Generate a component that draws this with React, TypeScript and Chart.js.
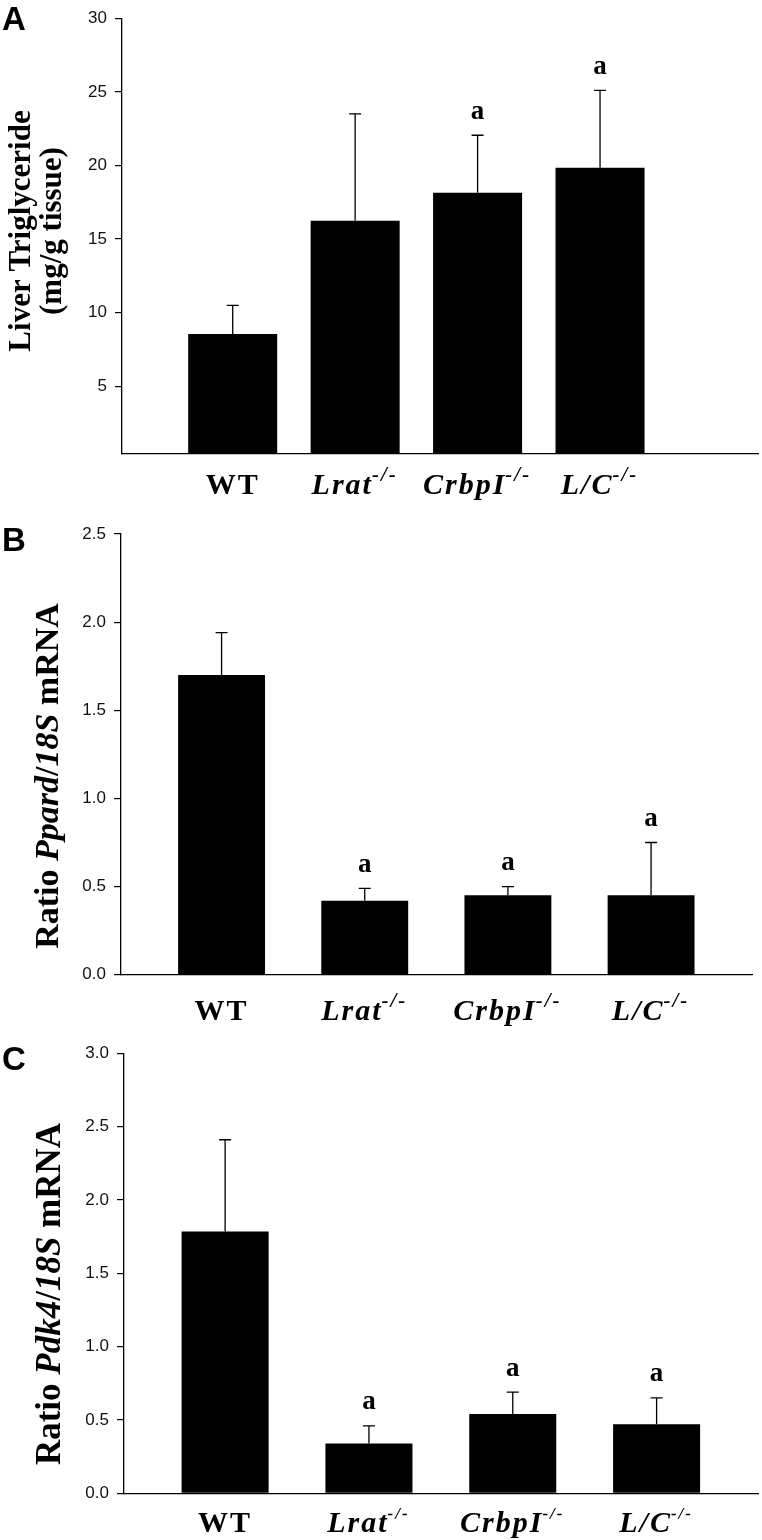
import React, { useEffect, useRef } from 'react';
import { Chart, registerables } from 'chart.js';

Chart.register(...registerables);

// ---------------- DATA ----------------
const categories = ['WT', 'Lrat', 'CrbpI', 'L/C'];
const categoryItalic = [false, true, true, true];
const categorySup = ['', '-/-', '-/-', '-/-'];
const positions = [1, 2, 3, 4];

const triglyceride = [8.55, 16.25, 18.15, 19.85];
const triglycerideErr = [1.95, 7.25, 3.9, 5.25];
const triglycerideSig = [false, false, true, true];
const triglycerideTicks = [5, 10, 15, 20, 25, 30];

const ppard = [1.7, 0.42, 0.45, 0.45];
const ppardErr = [0.24, 0.07, 0.05, 0.3];
const ppardSig = [false, true, true, true];
const ppardTicks = [0, 0.5, 1.0, 1.5, 2.0, 2.5];

const pdk4 = [1.785, 0.34, 0.54, 0.47];
const pdk4Err = [0.625, 0.12, 0.15, 0.18];
const pdk4Sig = [false, true, true, true];
const pdk4Ticks = [0, 0.5, 1.0, 1.5, 2.0, 2.5, 3.0];

const sigMark = 'a';

type Seg = { t: string; i?: boolean };

const titleA: Seg[][] = [[{ t: 'Liver Triglyceride' }], [{ t: '(mg/g tissue)' }]];
const titleB: Seg[][] = [[{ t: 'Ratio ' }, { t: 'Ppard', i: true }, { t: '/' }, { t: '18S', i: true }, { t: ' mRNA' }]];
const titleC: Seg[][] = [[{ t: 'Ratio ' }, { t: 'Pdk4', i: true }, { t: '/' }, { t: '18S', i: true }, { t: ' mRNA' }]];

// ---------------- LAYOUT ----------------
const W = 762;
const SERIF = '"Liberation Serif", "Times New Roman", serif';
const SANS = '"Liberation Sans", Arial, sans-serif';

type Cfg = {
  letter: string;
  values: number[];
  errs: number[];
  sig: boolean[];
  ticks: number[];
  decimals: number;
  yMin: number;
  yMax: number;
  xMin: number;
  xMax: number;
  barFrac: number;
  h: number;
  areaLeft: number;
  areaRight: number;
  areaTop: number;
  areaBottom: number;
  labelBaseline: number;
  labelSize: number;
  supSize: number;
  title: Seg[][];
  titleSize: number;
  titleBaselines: number[];
  titleCenterY: number;
  letterBaseline: number;
};

const panels: Cfg[] = [
  {
    letter: 'A', values: triglyceride, errs: triglycerideErr, sig: triglycerideSig, ticks: triglycerideTicks,
    decimals: 0, yMin: 0.4, yMax: 30, xMin: 0.096, xMax: 5.29, barFrac: 0.727,
    h: 505, areaLeft: 122, areaRight: 758, areaTop: 9.3, areaBottom: 454,
    labelBaseline: 494, labelSize: 30, supSize: 21,
    title: titleA, titleSize: 31, titleBaselines: [30, 61], titleCenterY: 231, letterBaseline: 30,
  },
  {
    letter: 'B', values: ppard, errs: ppardErr, sig: ppardSig, ticks: ppardTicks,
    decimals: 1, yMin: 0, yMax: 2.5, xMin: 0.2975, xMax: 4.705, barFrac: 0.607,
    h: 530, areaLeft: 121, areaRight: 752, areaTop: 29, areaBottom: 469.7,
    labelBaseline: 515, labelSize: 30, supSize: 21,
    title: titleB, titleSize: 34, titleBaselines: [58], titleCenterY: 271, letterBaseline: 46,
  },
  {
    letter: 'C', values: pdk4, errs: pdk4Err, sig: pdk4Sig, ticks: pdk4Ticks,
    decimals: 1, yMin: 0, yMax: 3.0, xMin: 0.297, xMax: 4.705, barFrac: 0.605,
    h: 505, areaLeft: 124, areaRight: 758, areaTop: 15.7, areaBottom: 458.3,
    labelBaseline: 497, labelSize: 30, supSize: 17,
    title: titleC, titleSize: 35, titleBaselines: [60], titleCenterY: 259, letterBaseline: 35,
  },
];

function segFont(italic: boolean | undefined, size: number) {
  return `${italic ? 'italic ' : ''}bold ${size}px ${SERIF}`;
}

function drawRotatedTitle(ctx: CanvasRenderingContext2D, segs: Seg[], size: number, bx: number, cy: number) {
  ctx.save();
  let w = 0;
  for (const s of segs) {
    ctx.font = segFont(s.i, size);
    w += ctx.measureText(s.t).width;
  }
  ctx.translate(bx, cy);
  ctx.rotate(-Math.PI / 2);
  ctx.textAlign = 'left';
  ctx.textBaseline = 'alphabetic';
  ctx.fillStyle = '#000';
  let x = -w / 2;
  for (const s of segs) {
    ctx.font = segFont(s.i, size);
    ctx.fillText(s.t, x, 0);
    x += ctx.measureText(s.t).width;
  }
  ctx.restore();
}

function drawCategoryLabel(ctx: CanvasRenderingContext2D, idx: number, cx: number, baseline: number, size: number, supSize: number) {
  const main = categories[idx];
  const sup = categorySup[idx];
  ctx.save();
  (ctx as any).letterSpacing = '2px';
  ctx.font = segFont(categoryItalic[idx], size);
  const wMain = ctx.measureText(main).width;
  ctx.font = segFont(true, supSize);
  const wSup = sup ? ctx.measureText(sup).width : 0;
  const total = wMain + wSup;
  let x = cx - total / 2;
  ctx.textAlign = 'left';
  ctx.textBaseline = 'alphabetic';
  ctx.fillStyle = '#000';
  ctx.font = segFont(categoryItalic[idx], size);
  ctx.fillText(main, x, baseline);
  x += wMain - 1;
  if (sup) {
    ctx.font = segFont(true, supSize);
    ctx.fillText(sup, x, baseline - size * 0.42);
  }
  ctx.restore();
}

function makePlugin(cfg: Cfg) {
  return {
    id: 'panelDecor' + cfg.letter,
    afterDatasetsDraw(chart: any) {
      const ctx: CanvasRenderingContext2D = chart.ctx;
      const meta = chart.getDatasetMeta(0);
      const yScale = chart.scales.y;
      ctx.save();
      ctx.strokeStyle = '#000';
      ctx.lineWidth = 1.3;
      meta.data.forEach((bar: any, i: number) => {
        const x = bar.x;
        const yTop = yScale.getPixelForValue(cfg.values[i]);
        const yErr = yScale.getPixelForValue(cfg.values[i] + cfg.errs[i]);
        ctx.beginPath();
        ctx.moveTo(x, yTop);
        ctx.lineTo(x, yErr);
        ctx.moveTo(x - 6, yErr);
        ctx.lineTo(x + 6, yErr);
        ctx.stroke();
        if (cfg.sig[i]) {
          ctx.fillStyle = '#000';
          ctx.font = segFont(false, 27);
          ctx.textAlign = 'center';
          ctx.textBaseline = 'alphabetic';
          ctx.fillText(sigMark, x, yErr - 16.5);
        }
      });
      ctx.restore();
    },
    afterDraw(chart: any) {
      const ctx: CanvasRenderingContext2D = chart.ctx;
      const meta = chart.getDatasetMeta(0);
      meta.data.forEach((bar: any, i: number) => {
        drawCategoryLabel(ctx, i, bar.x, cfg.labelBaseline, cfg.labelSize, cfg.supSize);
      });
      cfg.title.forEach((line, li) => {
        drawRotatedTitle(ctx, line, cfg.titleSize, cfg.titleBaselines[li], cfg.titleCenterY);
      });
      ctx.save();
      ctx.font = `bold 33px ${SANS}`;
      ctx.fillStyle = '#000';
      ctx.textAlign = 'left';
      ctx.textBaseline = 'alphabetic';
      ctx.fillText(cfg.letter, 2, cfg.letterBaseline);
      ctx.restore();
    },
  };
}

function Panel({ cfg }: { cfg: Cfg }) {
  const ref = useRef<HTMLCanvasElement>(null);
  useEffect(() => {
    const canvas = ref.current;
    if (!canvas) return;
    const chart = new Chart(canvas, {
      type: 'bar',
      data: {
        datasets: [
          {
            data: positions.map((p, i) => ({ x: p, y: cfg.values[i] })),
            backgroundColor: '#000',
            borderWidth: 0,
            categoryPercentage: cfg.barFrac,
            barPercentage: 1,
          } as any,
        ],
      },
      options: {
        responsive: false,
        animation: false,
        events: [],
        layout: { padding: { top: cfg.areaTop, right: W - cfg.areaRight, bottom: 0, left: 0 } },
        plugins: { legend: { display: false }, tooltip: { enabled: false }, title: { display: false } },
        scales: {
          x: {
            type: 'linear',
            min: cfg.xMin,
            max: cfg.xMax,
            offset: false,
            grid: { display: false },
            border: { display: true, color: '#000', width: 1.3 },
            ticks: { display: false },
            afterBuildTicks: (s: any) => {
              s.ticks = positions.map((v) => ({ value: v }));
            },
            afterFit: (s: any) => {
              s.height = cfg.h - cfg.areaBottom;
            },
          },
          y: {
            type: 'linear',
            min: cfg.yMin,
            max: cfg.yMax,
            grid: { display: true, drawOnChartArea: false, drawTicks: true, tickLength: 7, color: '#000', lineWidth: 1.2 },
            border: { display: true, color: '#000', width: 1.3 },
            ticks: {
              padding: 8,
              color: '#111',
              font: { family: SANS, size: 17 },
              callback: (v: any) => Number(v).toFixed(cfg.decimals),
            },
            afterBuildTicks: (s: any) => {
              s.ticks = cfg.ticks.map((v) => ({ value: v }));
            },
            afterFit: (s: any) => {
              s.width = cfg.areaLeft;
            },
          },
        },
      } as any,
      plugins: [makePlugin(cfg)],
    });
    return () => chart.destroy();
  }, [cfg]);
  return <canvas ref={ref} width={W} height={cfg.h} style={{ display: 'block', width: W, height: cfg.h }} />;
}

export default function App() {
  return (
    <div style={{ position: 'absolute', left: 0, top: 0, width: W, height: 1540, background: '#fff' }}>
      {panels.map((p) => (
        <Panel key={p.letter} cfg={p} />
      ))}
    </div>
  );
}
